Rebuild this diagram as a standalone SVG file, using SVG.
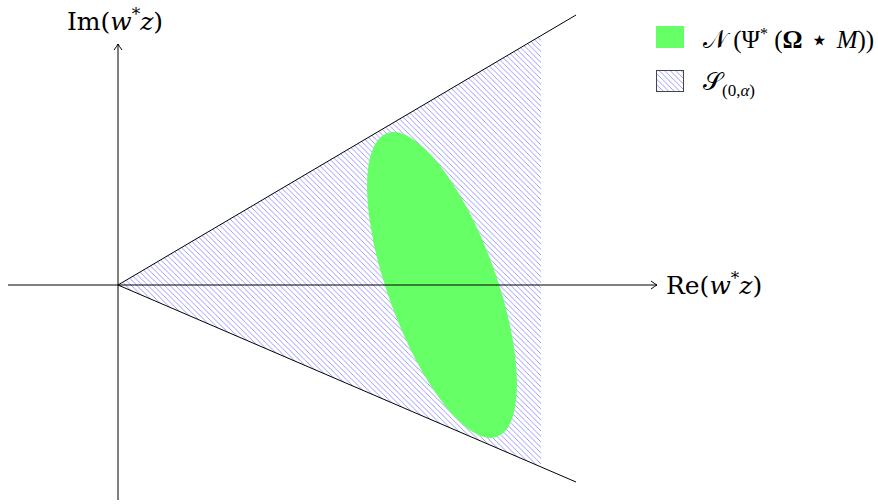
<svg xmlns="http://www.w3.org/2000/svg" width="878" height="504" viewBox="0 0 878 504">
<style>
.ax{stroke:#000;stroke-width:1;fill:none}
.cone{stroke:#000;stroke-width:1;fill:none}
.t{font-family:"DejaVu Serif","Liberation Serif",serif;fill:#000}
.m{font-family:"Liberation Serif","DejaVu Serif",serif;fill:#000}
</style>
<defs>
<pattern id="nwl" patternUnits="userSpaceOnUse" width="5.5" height="5.5">
<path d="M-1,-1 L6.5,6.5 M-1,4.5 L1,6.5 M4.5,-1 L6.5,1" stroke="#8f8fff" stroke-width="0.9"/>
</pattern>
<marker id="arr" markerWidth="12" markerHeight="12" refX="0" refY="0" viewBox="-8 -6 10 12" orient="auto" markerUnits="userSpaceOnUse">
<path d="M-6,-4 Q-2,-1 0,0 Q-2,1 -6,4" fill="none" stroke="#000" stroke-width="1"/>
</marker>
</defs>
<g id="region">
<polygon points="118,285 541,35.6 541,466.9" fill="url(#nwl)"/>
</g>
<g id="ellipse">
<ellipse cx="442" cy="285" rx="161.5" ry="54.2" transform="rotate(70.1 442 285)" fill="#66ff66"/>
</g>
<g id="connectors">
<line class="ax" x1="8" y1="285" x2="657" y2="285" marker-end="url(#arr)"/>
<line class="ax" x1="118" y1="500" x2="118" y2="44" marker-end="url(#arr)"/>
<line class="cone" x1="118" y1="285" x2="576" y2="15"/>
<line class="cone" x1="118" y1="285" x2="576" y2="482"/>
</g>
<g id="labels">
<text class="t" x="115" y="30" font-size="25" text-anchor="middle">Im(<tspan font-style="italic">w</tspan><tspan font-size="17" dy="-10">*</tspan><tspan font-style="italic" dy="10">z</tspan>)</text>
<text class="t" x="666" y="294" font-size="25">Re(<tspan font-style="italic">w</tspan><tspan font-size="17" dy="-10">*</tspan><tspan font-style="italic" dy="10">z</tspan>)</text>
</g>
<g id="legend">
<rect x="656" y="26" width="28" height="22" fill="#66ff66"/>
<rect x="656.5" y="70.5" width="27" height="21" fill="url(#nwl)" stroke="#444" stroke-width="1"/>
<text class="m" x="703" y="48" font-size="25">𝒩 (Ψ<tspan font-size="16" dy="-9">*</tspan><tspan dy="9"> (</tspan><tspan font-weight="bold">Ω</tspan><tspan font-size="30" dy="2"> ⋆ </tspan><tspan font-style="italic" dy="-2">M</tspan>))</text>
<text class="m" x="703" y="90" font-size="25">𝒮<tspan font-size="17" dy="6">(0,<tspan font-style="italic">α</tspan>)</tspan></text>
</g>
</svg>
